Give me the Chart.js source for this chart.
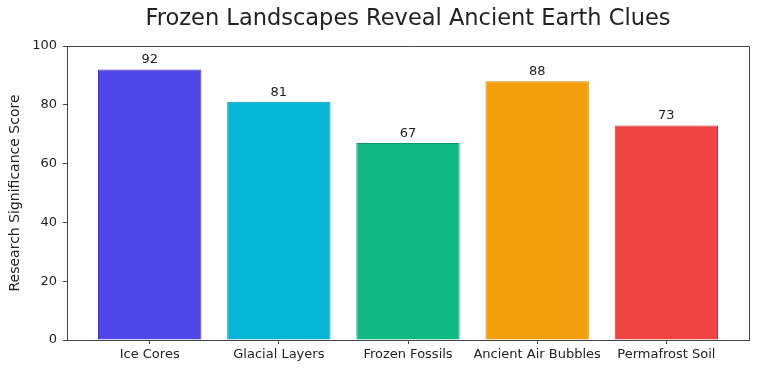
<!DOCTYPE html>
<html>
<head>
<meta charset="utf-8">
<script src="https://cdn.jsdelivr.net/npm/chart.js@4"></script>
<style>
  html, body { margin: 0; padding: 0; background: #fff; }
  #wrap { width: 758px; height: 374px; }
</style>
</head>
<body>
<div id="wrap"><canvas id="chart"></canvas></div>
<script>
const chartTitle = 'Frozen Landscapes Reveal Ancient Earth Clues';
const categories = ['Ice Cores', 'Glacial Layers', 'Frozen Fossils', 'Ancient Air Bubbles', 'Permafrost Soil'];
const scores = [92, 81, 67, 88, 73];
const yTicks = [0, 20, 40, 60, 80, 100];
const barColors = ['#4F46E5', '#06B6D4', '#10B981', '#F59E0B', '#EF4444'];
const barEdges = ['#3B32C8', '#0596AF', '#0A9A6B', '#D48608', '#C92F2F'];

const fontFamily = '"DejaVu Sans", sans-serif';

// Rahmen oben/rechts wie bei matplotlib, Titel über der Plotfläche zentriert
const frame = {
    id: 'frame',
    afterDraw(chart) {
        const { ctx, chartArea: a } = chart;
        ctx.save();
        ctx.strokeStyle = '#444';
        ctx.lineWidth = 1;
        ctx.beginPath();
        ctx.moveTo(a.left, a.top + 0.5);
        ctx.lineTo(a.right + 0.5, a.top + 0.5);
        ctx.lineTo(a.right + 0.5, a.bottom);
        ctx.stroke();

        ctx.font = '22.5px ' + fontFamily;
        ctx.fillStyle = '#222';
        ctx.textAlign = 'center';
        ctx.textBaseline = 'middle';
        ctx.fillText(chartTitle, (a.left + a.right) / 2, 19);
        ctx.restore();
    }
};

// Werte über den Balken
const valueLabels = {
    id: 'valueLabels',
    afterDatasetsDraw(chart) {
        const { ctx } = chart;
        const meta = chart.getDatasetMeta(0);
        ctx.save();
        ctx.font = '13px ' + fontFamily;
        ctx.fillStyle = '#222';
        ctx.textAlign = 'center';
        ctx.textBaseline = 'bottom';
        meta.data.forEach((bar, i) => {
            ctx.fillText(String(scores[i]), bar.x, bar.y - 3);
        });
        ctx.restore();
    }
};

new Chart(document.getElementById('chart'), {
    type: 'bar',
    data: {
        datasets: [{
            data: scores.map((v, i) => ({ x: i, y: v })),
            backgroundColor: barColors,
            borderColor: barEdges,
            borderWidth: 1,
            barPercentage: 0.8,
            categoryPercentage: 1.0
        }]
    },
    options: {
        responsive: true,
        maintainAspectRatio: false,
        animation: false,
        layout: { padding: { left: 0, right: 9, top: 46, bottom: 0 } },
        plugins: {
            legend: { display: false },
            tooltip: { enabled: false },
            title: { display: false }
        },
        scales: {
            x: {
                type: 'linear',
                offset: false,
                min: -0.64,
                max: 4.64,
                afterBuildTicks(scale) {
                    scale.ticks = categories.map((c, i) => ({ value: i }));
                },
                afterFit(scale) { scale.height = 34; },
                ticks: {
                    autoSkip: false,
                    maxRotation: 0,
                    padding: 3,
                    color: '#222',
                    font: { family: fontFamily, size: 13 },
                    callback: (v) => categories[v]
                },
                grid: {
                    offset: false,
                    drawOnChartArea: false,
                    drawTicks: true,
                    tickLength: 4,
                    color: '#444'
                },
                border: { color: '#444', width: 1 }
            },
            y: {
                min: 0,
                max: 100,
                afterBuildTicks(scale) {
                    scale.ticks = yTicks.map(v => ({ value: v }));
                },
                afterFit(scale) { scale.width = 67; },
                ticks: {
                    padding: 6,
                    color: '#222',
                    font: { family: fontFamily, size: 13 }
                },
                grid: {
                    drawOnChartArea: false,
                    drawTicks: true,
                    tickLength: 4,
                    color: '#444'
                },
                border: { color: '#444', width: 1 },
                title: {
                    display: true,
                    text: 'Research Significance Score',
                    color: '#222',
                    font: { family: fontFamily, size: 14 },
                    padding: { top: 7, bottom: 0 }
                }
            }
        }
    },
    plugins: [frame, valueLabels]
});
</script>
</body>
</html>
